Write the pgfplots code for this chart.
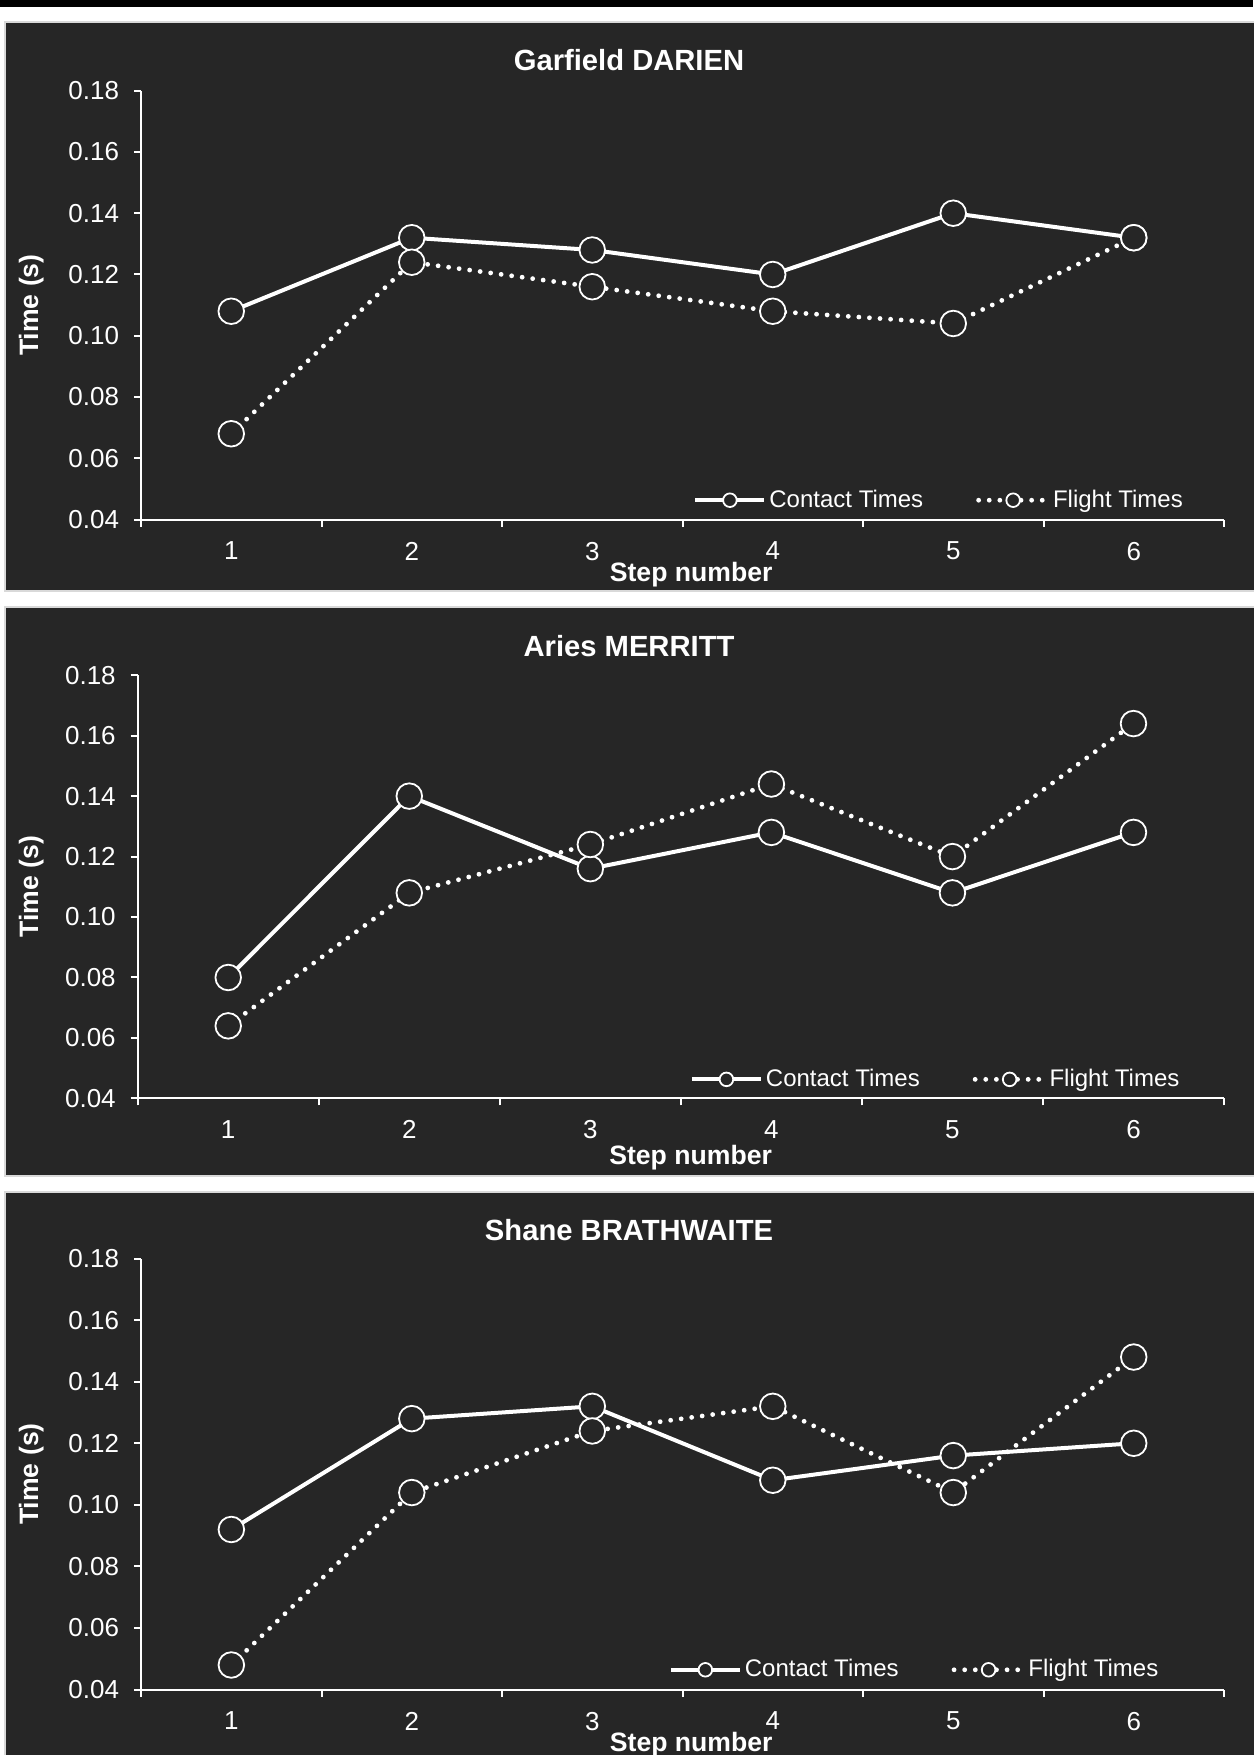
\documentclass[border=0pt]{standalone}
\usepackage{fontspec}
\setmainfont{Liberation Sans}
\usepackage{pgfplots}
\pgfplotsset{compat=1.18}
\definecolor{bg}{HTML}{262626}
\definecolor{bord}{HTML}{D9D9D9}
\pgfplotsset{
  panel/.style={
    scale only axis,
    anchor=south west,
    xmin=0.5, xmax=6.5, ymin=0.04, ymax=0.18,
    axis lines*=left,
    axis line style={white, line width=1pt, -},
    xtick={0.5,1.5,2.5,3.5,4.5,5.5,6.5},
    xticklabels={1,2,3,4,5,6},
    x tick label as interval,
    ytick={0.04,0.06,0.08,0.10,0.12,0.14,0.16,0.18},
    yticklabels={0.04,0.06,0.08,0.10,0.12,0.14,0.16,0.18},
    tick align=outside,
    major tick length=3.5pt,
    tick style={white, line width=1pt},
    tick label style={text=white, font=\fontsize{13}{15}\selectfont},
    xticklabel style={anchor=north, inner sep=0pt, yshift=-7.5pt},
    yticklabel style={anchor=east, inner sep=0pt, xshift=-7.3pt},
    xlabel={Step number}, ylabel={Time (s)},
    label style={text=white, font=\bfseries\fontsize{13.3}{15}\selectfont, anchor=center},
    title style={text=white, font=\bfseries\fontsize{14.6}{17}\selectfont, anchor=center},
    legend columns=2,
    legend cell align=left,
    legend style={anchor=west, draw=none, fill=none, text=white, inner sep=0pt,
      font=\fontsize{12}{14}\selectfont,
      nodes={inner xsep=1.5pt},
      /tikz/every even column/.append style={column sep=25pt}},
    legend image code/.code={\draw[mark repeat=2,mark phase=2,##1, mark size=3.4pt] plot coordinates {(0pt,0pt)(17.25pt,0pt)(34.5pt,0pt)};},
    clip=false,
  },
  contact/.style={white, line width=2pt, mark=*, mark size=6.4pt,
    mark options={solid, fill=bg, draw=white, line width=0.9pt}},
  flight/.style={white, line width=2.4pt, line cap=round, dash pattern=on 0pt off 5.3pt, mark=*, mark size=6.4pt,
    mark options={solid, fill=bg, draw=white, line width=0.9pt}},
}
\begin{document}
\begin{tikzpicture}
\useasboundingbox (0,0) rectangle (626.5pt,-877.5pt);
\fill[white] (0,0) rectangle (626.5pt,-877.5pt);
\fill[black] (0,0) rectangle (626.5pt,-3.5pt);
\filldraw[fill=bg, draw=bord, line width=0.75pt] (2.5pt,-11pt) rectangle (630pt,-295.5pt);
\filldraw[fill=bg, draw=bord, line width=0.75pt] (2.5pt,-303.5pt) rectangle (630pt,-588pt);
\filldraw[fill=bg, draw=bord, line width=0.75pt] (2.5pt,-596pt) rectangle (630pt,-880pt);

\begin{axis}[panel, at={(70.5pt,-259.75pt)}, width=541.5pt, height=214.4pt,
  title={Garfield DARIEN}, title style={at={(0.4506,1.0436)}},
  xlabel style={at={(0.508,-0.128)}}, ylabel style={at={(-0.1014,0.5)}},
  legend style={at={(0.5097,0.045)}}]
\addplot[contact] coordinates {(1,0.108)(2,0.132)(3,0.128)(4,0.120)(5,0.140)(6,0.132)};
\addplot[flight] coordinates {(1,0.068)(2,0.124)(3,0.116)(4,0.108)(5,0.104)(6,0.132)};
\legend{Contact Times, Flight Times}
\end{axis}

\begin{axis}[panel, at={(68.85pt,-549.2pt)}, width=543.15pt, height=211.6pt,
  title={Aries MERRITT}, title style={at={(0.4523,1.0406)}},
  xlabel style={at={(0.509,-0.140)}}, ylabel style={at={(-0.098,0.5)}},
  legend style={at={(0.508,0.045)}}]
\addplot[contact] coordinates {(1,0.080)(2,0.140)(3,0.116)(4,0.128)(5,0.108)(6,0.128)};
\addplot[flight] coordinates {(1,0.064)(2,0.108)(3,0.124)(4,0.144)(5,0.120)(6,0.164)};
\legend{Contact Times, Flight Times}
\end{axis}

\begin{axis}[panel, at={(70.55pt,-844.8pt)}, width=541.45pt, height=215.55pt,
  title={Shane BRATHWAITE}, title style={at={(0.4506,1.0372)}},
  xlabel style={at={(0.508,-0.127)}}, ylabel style={at={(-0.1014,0.5)}},
  legend style={at={(0.487,0.046)}}]
\addplot[contact] coordinates {(1,0.092)(2,0.128)(3,0.132)(4,0.108)(5,0.116)(6,0.120)};
\addplot[flight] coordinates {(1,0.048)(2,0.104)(3,0.124)(4,0.132)(5,0.104)(6,0.148)};
\legend{Contact Times, Flight Times}
\end{axis}
\end{tikzpicture}
\end{document}
